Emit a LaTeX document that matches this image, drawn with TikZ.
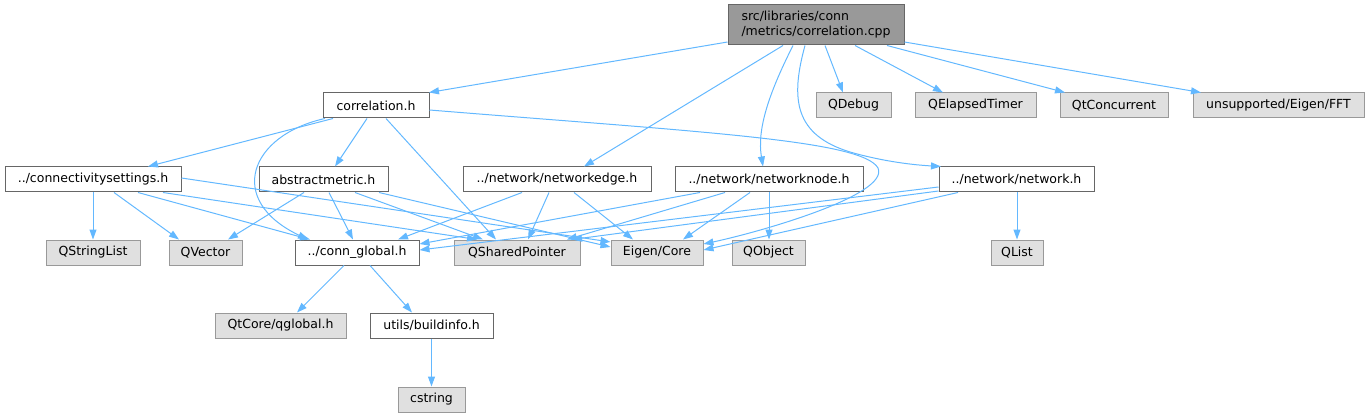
\documentclass[tikz,border=0pt]{standalone}
\usepackage{fontspec}
\setmainfont{DejaVu Sans}
\usetikzlibrary{arrows.meta}
\definecolor{edgec}{HTML}{63B8FF}
\definecolor{bordc}{HTML}{666666}
\definecolor{extb}{HTML}{999999}
\definecolor{extf}{HTML}{E0E0E0}
\definecolor{rootf}{HTML}{999999}
\begin{document}
\begin{tikzpicture}[x=1pt,y=-1pt,
  box/.style={draw=bordc, fill=white, line width=1pt, inner sep=0pt, minimum height=25pt, font=\fontsize{12.5}{15}\selectfont},
  ext/.style={box, draw=extb, fill=extf},
  rootbox/.style={box, fill=rootf, minimum height=40pt, align=left},
  edge/.style={draw=edgec, line width=1pt, -{Triangle[length=10pt,width=7pt]}}]
\useasboundingbox (0,0) rectangle (1369,417);
% row 1
\node[rootbox, minimum width=176pt] (root) at (816,25) {src/libraries/conn\\/metrics/correlation.cpp};
% row 2
\node[box, minimum width=106pt] (corr) at (376,105.5) {correlation.h};
\node[ext, minimum width=75pt] (qdebug) at (853.5,105.5) {QDebug};
\node[ext, minimum width=121pt] (qelapsed) at (975.5,105.5) {QElapsedTimer};
\node[ext, minimum width=108pt] (qtconc) at (1114,105.5) {QtConcurrent};
\node[ext, minimum width=171pt] (fft) at (1278.5,105.5) {unsupported/Eigen/FFT};
% row 3
\node[box, minimum width=176pt] (conn) at (93,179.5) {../connectivitysettings.h};
\node[box, minimum width=129pt] (absm) at (323.5,179.5) {abstractmetric.h};
\node[box, minimum width=188pt] (nedge) at (557,179.5) {../network/networkedge.h};
\node[box, minimum width=188pt] (nnode) at (769,179.5) {../network/networknode.h};
\node[box, minimum width=155pt] (nnet) at (1016.5,179.5) {../network/network.h};
% row 4
\node[ext, minimum width=94pt] (qsl) at (93,252.5) {QStringList};
\node[ext, minimum width=73pt] (qvec) at (205.5,252.5) {QVector};
\node[box, minimum width=124pt] (cglob) at (357,252.5) {../conn\_global.h};
\node[ext, minimum width=126pt] (qsp) at (517,252.5) {QSharedPointer};
\node[ext, minimum width=92pt] (eigen) at (657,252.5) {Eigen/Core};
\node[ext, minimum width=73pt] (qobj) at (768.5,252.5) {QObject};
\node[ext, minimum width=52pt] (qlist) at (1017,252.5) {QList};
% row 5
\node[ext, minimum width=131pt] (qglob) at (280.5,325.5) {QtCore/qglobal.h};
\node[box, minimum width=123pt] (binfo) at (431.5,325.5) {utils/buildinfo.h};
% row 6
\node[ext, minimum width=67pt] (cstr) at (431.5,399.5) {cstring};
% edges from root
\draw[edge] (root.west |- 0,42) -- (corr.north -| 429,0);
\draw[edge] (root.south -| 783,0) -- (nedge.north -| 584,0);
\draw[edge] (root.south -| 793,0) .. controls (768,95) and (757,130) .. (nnode.north -| 763,0);
\draw[edge] (root.south -| 805,0) .. controls (790,100) and (795,135) .. (850,152) .. controls (885,162) and (915,165) .. (nnet.north -| 941,0);
\draw[edge] (root.south -| 825,0) -- (qdebug.north -| 843,0);
\draw[edge] (root.south -| 855,0) -- (qelapsed.north -| 943,0);
\draw[edge] (root.south -| 887,0) -- (qtconc.north -| 1065,0);
\draw[edge] (root.east |- 0,42) -- (fft.north -| 1201,0);
% edges from correlation.h
\draw[edge] (corr.south -| 333,0) -- (conn.north -| 148,0);
\draw[edge] (corr.south -| 367,0) -- (absm.north -| 335,0);
\draw[edge] (corr.south -| 325,0) .. controls (250,135) and (225,200) .. (cglob.north -| 308,0);
\draw[edge] (corr.south -| 386,0) -- (qsp.north -| 496,0);
\draw[edge] (corr.east |- 0,110) .. controls (700,132) and (862,140) .. (878,168) .. controls (890,195) and (760,232) .. (eigen.east |- 0,244);
% connectivitysettings
\draw[edge] (conn.south -| 93,0) -- (qsl.north -| 93,0);
\draw[edge] (conn.south -| 114,0) -- (qvec.north -| 179,0);
\draw[edge] (conn.south -| 138,0) -- (cglob.north -| 310,0);
\draw[edge] (conn.south -| 163,0) -- (qsp.north -| 477,0);
\draw[edge] (conn.east |- 0,178) -- (eigen.west |- 0,242);
% abstractmetric
\draw[edge] (absm.south -| 304,0) -- (qvec.north -| 228,0);
\draw[edge] (absm.south -| 329,0) -- (cglob.north -| 353,0);
\draw[edge] (absm.south -| 355,0) -- (qsp.north -| 483,0);
\draw[edge] (absm.south -| 379,0) -- (eigen.west |- 0,247);
% networkedge
\draw[edge] (nedge.south -| 522,0) -- (cglob.north -| 398,0);
\draw[edge] (nedge.south -| 549,0) -- (qsp.north -| 528,0);
\draw[edge] (nedge.south -| 574,0) -- (eigen.north -| 633,0);
% networknode
\draw[edge] (nnode.south -| 700,0) -- (cglob.east |- 0,244);
\draw[edge] (nnode.south -| 725,0) -- (qsp.north -| 567,0);
\draw[edge] (nnode.south -| 750,0) -- (eigen.north -| 683,0);
\draw[edge] (nnode.south -| 769,0) -- (qobj.north -| 769,0);
% network
\draw[edge] (nnet.west |- 0,187) -- (cglob.east |- 0,250);
\draw[edge] (nnet.west |- 0,191) -- (qsp.north -| 572,0);
\draw[edge] (nnet.south -| 958,0) -- (eigen.east |- 0,250);
\draw[edge] (nnet.south -| 1017,0) -- (qlist.north -| 1017,0);
% conn_global
\draw[edge] (cglob.south -| 344,0) -- (qglob.north -| 297,0);
\draw[edge] (cglob.south -| 370,0) -- (binfo.north -| 412,0);
\draw[edge] (binfo.south -| 431.5,0) -- (cstr.north -| 431.5,0);
\end{tikzpicture}
\end{document}
